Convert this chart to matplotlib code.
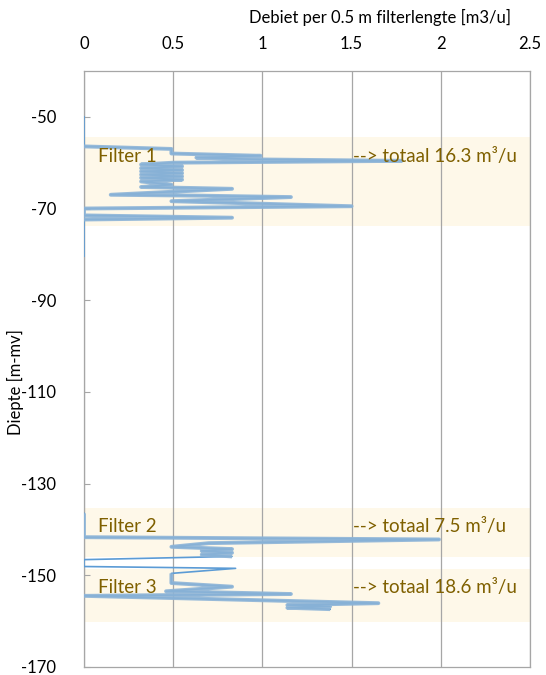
import numpy as np
import matplotlib.pyplot as plt

plt.rcParams['font.family'] = ['Lato', 'DejaVu Sans']
plt.rcParams['axes.unicode_minus'] = False

# Debiet profiel (diepte [m-mv], debiet per 0.5 m [m3/u]); NaN = geen meting
diepte = [-50.0, -56.45, -57.0, -58.0, -58.5, -58.9, -59.3, -59.6, -60.0,
          -60.4, -60.8, -61.2, -61.6, -61.9, -62.3, -62.6, -63.0, -63.3, -63.7, -64.1,
          -64.8, -65.3, -65.7, -67.0, -67.2, -67.5, -68.4, -69.5, -70.0, -71.5,
          -72.0, -72.4, -80.4,
          np.nan,
          -136.5, -141.7, -142.2, -143.0, -143.8, -144.3, -144.7, -145.1, -145.5,
          -145.9, -146.6, -148.1, -148.5, -149.6, -151.7, -152.5, -153.5, -154.1,
          -154.5, -156.1, -156.5, -156.8, -157.1, -157.4]
debiet = [0.0, 0.0, 0.49, 0.49, 0.99, 0.63, 0.99, 1.78, 0.50,
          0.32, 0.55, 0.32, 0.55, 0.32, 0.55, 0.32, 0.55, 0.32, 0.55, 0.32,
          0.49, 0.32, 0.83, 0.15, 0.66, 1.16, 0.49, 1.50, 0.0, 0.0,
          0.83, 0.0, 0.0,
          np.nan,
          0.0, 0.0, 1.99, 0.70, 0.49, 0.83, 0.66, 0.83, 0.66,
          0.83, 0.0, 0.0, 0.85, 0.49, 0.49, 0.83, 0.46, 1.16,
          0.0, 1.65, 1.14, 1.38, 1.14, 1.38]

filters = ['Filter 1', 'Filter 2', 'Filter 3']
filter_top = [-54.3, -135.4, -148.7]
filter_bot = [-73.9, -146.1, -160.2]
filter_tekst = [-58.7, -139.3, -152.6]
totaal = [16.3, 7.5, 18.6]

diepte = np.array(diepte)
debiet = np.array(debiet)

fig = plt.figure(figsize=(5.46, 6.75), dpi=100)
ax = fig.add_axes([0.1538, 0.012, 0.8169, 0.8828])

grijs = '#A6A6A6'
tekstkleur = '#7F6000'

for i in range(len(filters)):
    ax.axhspan(filter_bot[i], filter_top[i], color='#FEF8E9', zorder=0, lw=0)
    ax.text(0.08, filter_tekst[i], filters[i], color=tekstkleur, fontsize=13.5,
            va='center', ha='left', zorder=5)
    ax.text(1.507, filter_tekst[i], '--> totaal %g m\u00b3/u' % totaal[i],
            color=tekstkleur, fontsize=13.5, va='center', ha='left', zorder=5)

# dunne lijn over het hele profiel
ax.plot(debiet, diepte, color='#5B9BD5', lw=1.2, zorder=3)

# dikke lijn binnen de filters
in_filter = np.zeros(len(diepte), dtype=bool)
for t, b in zip(filter_top, filter_bot):
    in_filter |= (diepte <= t) & (diepte >= b)
ax.plot(debiet, np.where(in_filter, diepte, np.nan), color='#8DB4D7', lw=2.8,
        alpha=0.9, zorder=4, solid_capstyle='butt')

ax.set_xlim(0, 2.5)
ax.set_ylim(-170, -40)
ax.set_xticks([0, 0.5, 1, 1.5, 2, 2.5])
ax.set_xticklabels(['0', '0.5', '1', '1.5', '2', '2.5'])
ax.set_yticks(np.arange(-170, -40, 20))
ax.xaxis.tick_top()
ax.xaxis.set_label_position('top')
ax.tick_params(axis='x', length=0, pad=14, labelsize=12, colors='#000000')
ax.tick_params(axis='y', direction='in', length=4, color=grijs, pad=20, labelsize=12)
ax.xaxis.grid(True, color=grijs, lw=0.9, zorder=1)
ax.set_axisbelow(True)
for s in ax.spines.values():
    s.set_color(grijs)
    s.set_linewidth(0.9)

ax.set_xlabel('Debiet per 0.5 m filterlengte [m3/u]', fontsize=12)
ax.xaxis.set_label_coords(0.664, 1.08)
ax.set_ylabel('Diepte [m-mv]', fontsize=12)
ax.yaxis.set_label_coords(-0.135, 0.478)

fig.savefig('out.png', dpi=100)
